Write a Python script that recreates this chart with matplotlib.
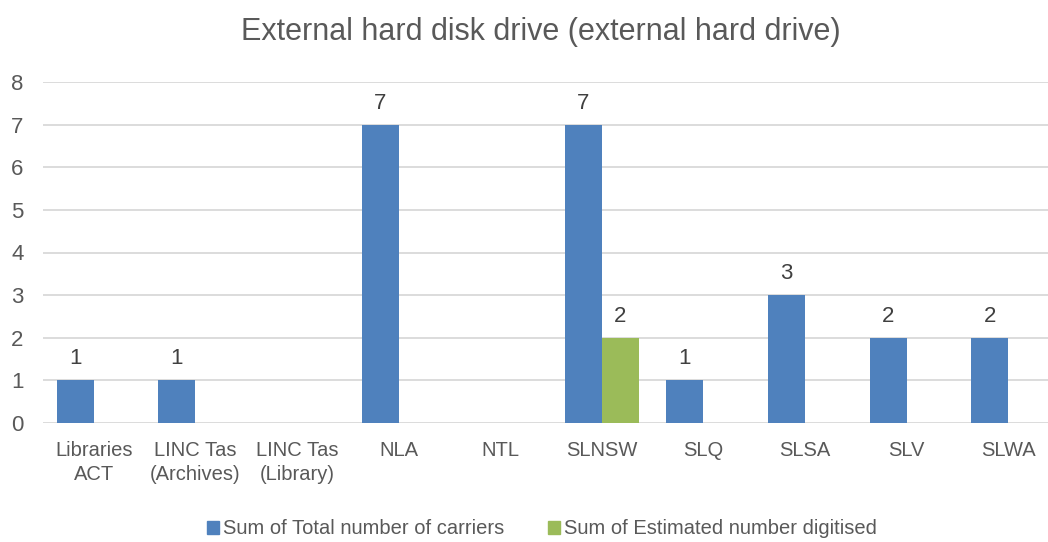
import matplotlib
matplotlib.use("Agg")
import numpy as np
import matplotlib.pyplot as plt
from matplotlib.patches import Patch

# ── data ──────────────────────────────────────────────────────────────────────
categories = ["Libraries\nACT", "LINC Tas\n(Archives)", "LINC Tas\n(Library)", "NLA",
              "NTL", "SLNSW", "SLQ", "SLSA", "SLV", "SLWA"]
total_carriers = [1, 1, 0, 7, 0, 7, 1, 3, 2, 2]
est_digitised  = [0, 0, 0, 0, 0, 2, 0, 0, 0, 0]
series_names = ["Sum of Total number of carriers", "Sum of Estimated number digitised"]
yticks = [0, 1, 2, 3, 4, 5, 6, 7, 8]

# ── style ─────────────────────────────────────────────────────────────────────
BLUE  = "#4F81BD"
GREEN = "#9BBB59"
GREY  = "#595959"
GRID  = "#D9D9D9"
plt.rcParams["font.family"] = ["Liberation Sans Narrow", "Liberation Sans", "DejaVu Sans"]

W, H = 1048, 542
fig = plt.figure(figsize=(W / 100, H / 100), dpi=100)
fig.patch.set_facecolor("white")
# plot area runs slightly past the right edge of the image, as in the reference
ax = fig.add_axes([43 / W, 119 / H, 1016 / W, 341 / H])

x = np.arange(len(categories))
bw = 0.364
b1 = ax.bar(x - bw / 2, total_carriers, bw, color=BLUE, zorder=3)
b2 = ax.bar(x + bw / 2, est_digitised, bw, color=GREEN, zorder=3)

for bars, vals in [(b1, total_carriers), (b2, est_digitised)]:
    for rect, v in zip(bars, vals):
        if v > 0:
            ax.text(rect.get_x() + rect.get_width() / 2, v + 0.26, str(v),
                    ha="center", va="bottom", fontsize=16, color="#404040")

ax.set_xlim(-0.5, len(categories) - 0.5)
ax.set_ylim(0, 8)
ax.set_yticks(yticks)
ax.set_xticks(x)
ax.set_xticklabels(categories, fontsize=14.5, color=GREY, linespacing=1.35)
ax.tick_params(axis="y", labelsize=16, colors=GREY, length=0, pad=14)
ax.tick_params(axis="x", length=0, pad=13)
ax.grid(axis="y", color=GRID, linewidth=1.3, zorder=0)
ax.set_axisbelow(True)
for sp in ax.spines.values():
    sp.set_visible(False)

fig.text(541 / W, 1 - 32 / H, "External hard disk drive (external hard drive)",
         ha="center", va="center", fontsize=22, color=GREY)

handles = [Patch(color=BLUE), Patch(color=GREEN)]
fig.legend(handles, series_names, loc="center", bbox_to_anchor=(542 / W, 1 - 529 / H),
           ncol=2, frameon=False, fontsize=14.5, labelcolor=GREY,
           handlelength=0.6, handleheight=0.6, handletextpad=0.2, columnspacing=2.2)

fig.savefig("out.png", dpi=100)
